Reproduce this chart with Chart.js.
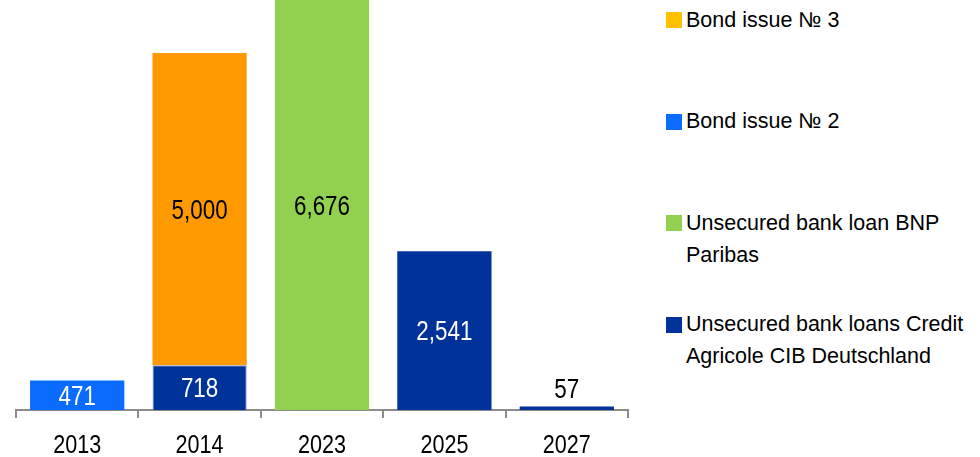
<!DOCTYPE html>
<html lang="en">
<head>
  <meta charset="UTF-8" />
  <title>Debt repayment schedule</title>
  <style>
    body {
      margin: 0;
      background: #fff;
      font-family: 'Liberation Sans', Arial, sans-serif;
    }
    .wrap {
      position: relative;
      width: 980px;
      height: 457px;
      overflow: hidden;
    }
    .chart-box {
      position: absolute;
      left: 0;
      top: 0;
      width: 640px;
      height: 457px;
    }
    .legend {
      position: absolute;
      left: 666px;
      top: 3.5px;
      font-size: 21.5px;
      line-height: 32px;
      color: #000;
    }
    .legend .item {
      display: flex;
      align-items: flex-start;
      height: 101.5px;
    }
    .legend .sw {
      flex: none;
      width: 16px;
      height: 16px;
      margin-top: 8.5px;
      margin-right: 4px;
    }
    .legend .txt {
      width: 290px;
    }
  </style>
</head>
<body>
  <div class="wrap">
    <div class="chart-box"><canvas id="debtChart"></canvas></div>
    <div class="legend" id="legend"></div>
  </div>

  <script src="https://cdn.jsdelivr.net/npm/chart.js"></script>
  <script>
    // repayment years
    const years = ["2013", "2014", "2023", "2025", "2027"];

    // series, listed top to bottom as in the legend
    const seriesNames = [
      "Bond issue № 3",
      "Bond issue № 2",
      "Unsecured bank loan BNP Paribas",
      "Unsecured bank loans Credit Agricole CIB Deutschland"
    ];
    const bondIssue3 = [null, 5000, null, null, null];
    const bondIssue2 = [471, null, null, null, null];
    const bnpParibas = [null, null, 6676, null, null];
    const creditAgricole = [null, 718, null, 2541, 57];

    const barColors = ["#ff9900", "#0a6cff", "#92d050", "#003399"];
    const legendColors = ["#ffc000", "#0a6cff", "#92d050", "#003399"];
    const labelColors = ["#000", "#fff", "#000", "#fff"];
    const seriesValues = [bondIssue3, bondIssue2, bnpParibas, creditAgricole];

    const yMax = 6567;
    const narrow = 0.83;

    // legend on the right
    const legendEl = document.getElementById("legend");
    seriesNames.forEach((name, i) => {
      const item = document.createElement("div");
      item.className = "item";
      item.innerHTML = '<span class="sw" style="background:' + legendColors[i] + '"></span><span class="txt"></span>';
      item.querySelector(".txt").textContent = name;
      legendEl.appendChild(item);
    });

    // condensed text (the chart uses a narrow face)
    function drawNarrow(ctx, text, x, y, color) {
      ctx.save();
      ctx.translate(x, y);
      ctx.scale(narrow, 1);
      ctx.fillStyle = color;
      ctx.fillText(text, 0, 0);
      ctx.restore();
    }

    const barLabels = {
      id: "barLabels",
      afterDatasetsDraw(chart) {
        const { ctx, chartArea } = chart;
        const size = 27;
        ctx.save();
        ctx.font = size + "px 'Liberation Sans', Arial, sans-serif";
        ctx.textAlign = "center";
        ctx.textBaseline = "alphabetic";
        chart.data.datasets.forEach((ds, i) => {
          chart.getDatasetMeta(i).data.forEach((bar, j) => {
            const v = ds.data[j];
            if (v == null) return;
            const top = Math.max(bar.y, chartArea.top);
            const h = bar.base - top;
            const text = v.toLocaleString("en-US");
            if (h > 20) {
              drawNarrow(ctx, text, bar.x, (top + bar.base) / 2 + size * 0.36, ds.labelColor);
            } else {
              drawNarrow(ctx, text, bar.x, top - 8.5, "#000");
            }
          });
        });
        ctx.restore();
      },
      afterDraw(chart) {
        const { ctx, chartArea } = chart;
        const xs = chart.scales.x;
        ctx.save();
        ctx.font = "26px 'Liberation Sans', Arial, sans-serif";
        ctx.textAlign = "center";
        ctx.textBaseline = "alphabetic";
        years.forEach((y, i) => {
          drawNarrow(ctx, y, xs.getPixelForValue(i), chartArea.bottom + 43, "#000");
        });
        ctx.restore();
      }
    };

    // stack from the bottom up: Credit Agricole first
    const datasets = seriesNames.map((name, i) => ({
      label: name,
      data: seriesValues[i],
      backgroundColor: barColors[i],
      // only the 2014 loan segment has a pale outline
      borderColor: ctx => (i === 3 && ctx.dataIndex === 1) ? "#8fa3c8" : barColors[i],
      borderWidth: ctx => (i === 3 && ctx.dataIndex === 1) ? 1 : 0,
      labelColor: labelColors[i],
      categoryPercentage: 1,
      barPercentage: 0.77
    })).reverse();

    new Chart(document.getElementById("debtChart"), {
      type: "bar",
      data: { labels: years, datasets: datasets },
      options: {
        responsive: true,
        maintainAspectRatio: false,
        animation: false,
        layout: { padding: { left: 16, right: 12, top: 0, bottom: 39 } },
        plugins: {
          legend: { display: false },
          tooltip: { enabled: false }
        },
        scales: {
          x: {
            stacked: true,
            grid: {
              display: true,
              drawOnChartArea: false,
              drawTicks: true,
              tickLength: 8,
              lineWidth: 2,
              color: "#8c8c8c"
            },
            border: { display: true, color: "#8c8c8c", width: 2 },
            ticks: { display: false }
          },
          y: {
            stacked: true,
            display: false,
            min: 0,
            max: yMax
          }
        }
      },
      plugins: [barLabels]
    });
  </script>
</body>
</html>
